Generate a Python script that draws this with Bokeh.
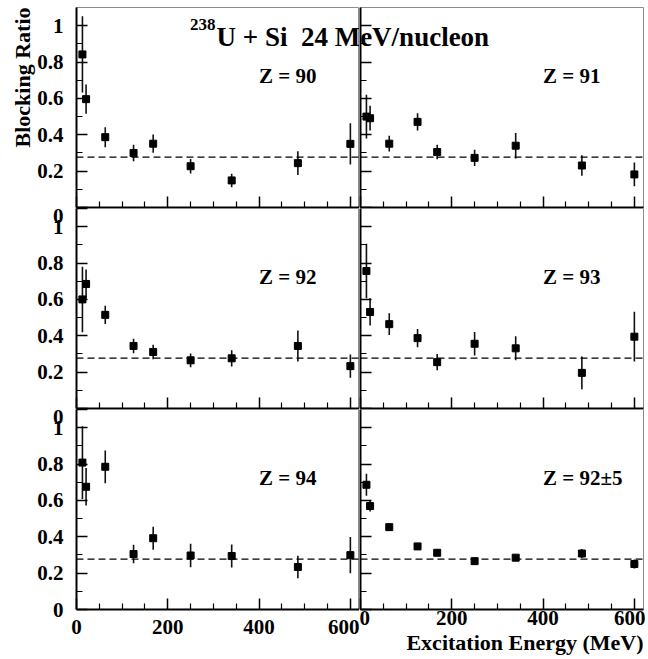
import math
from bokeh.plotting import figure
from bokeh.layouts import gridplot
from bokeh.models import (FixedTicker, Span, Label, Title, ColumnDataSource,
                          CustomJSTickFormatter, CustomLabelingPolicy)
from bokeh.embed import file_html
from bokeh.resources import INLINE

# ---------------- data ----------------
energy = [13, 21, 63, 125, 168, 250, 340, 485, 600]

panel_labels = ["Z = 90", "Z = 91", "Z = 92", "Z = 93", "Z = 94", "Z = 92\u00b15"]

ratio_z90 = [0.842, 0.596, 0.387, 0.300, 0.351, 0.227, 0.149, 0.244, 0.350]
err_z90 = [0.21, 0.08, 0.055, 0.045, 0.05, 0.04, 0.037, 0.065, 0.114]

ratio_z91 = [0.500, 0.491, 0.351, 0.471, 0.305, 0.273, 0.340, 0.231, 0.182]
err_z91 = [0.12, 0.068, 0.043, 0.048, 0.04, 0.045, 0.07, 0.057, 0.065]

ratio_z92 = [0.600, 0.685, 0.515, 0.344, 0.311, 0.265, 0.276, 0.344, 0.233]
err_z92 = [0.18, 0.08, 0.05, 0.04, 0.04, 0.038, 0.045, 0.085, 0.064]

ratio_z93 = [0.756, 0.531, 0.464, 0.387, 0.255, 0.356, 0.331, 0.196, 0.395]
err_z93 = [0.15, 0.075, 0.06, 0.05, 0.045, 0.065, 0.066, 0.09, 0.137]

ratio_z94 = [0.808, 0.675, 0.785, 0.305, 0.392, 0.297, 0.294, 0.234, 0.299]
err_z94 = [0.2, 0.103, 0.09, 0.051, 0.063, 0.064, 0.063, 0.062, 0.1]

ratio_all = [0.686, 0.569, 0.453, 0.347, 0.312, 0.266, 0.285, 0.308, 0.250]
err_all = [0.06, 0.03, 0.01, 0.01, 0.01, 0.01, 0.012, 0.025, 0.025]

ratios = [ratio_z90, ratio_z91, ratio_z92, ratio_z93, ratio_z94, ratio_all]
errors = [err_z90, err_z91, err_z92, err_z93, err_z94, err_all]

mean_ratio = 0.277

x_major = [0, 200, 400, 600]
x_minor = [50, 100, 150, 250, 300, 350, 450, 500, 550]
y_major = [0, 0.2, 0.4, 0.6, 0.8, 1.0]
y_minor = [0.1, 0.3, 0.5, 0.7, 0.9]

title_sup = "238"
title_main = "U + Si\u00a0 24 MeV/nucleon"
x_title = "Excitation Energy (MeV)"
y_title = "Blocking Ratio"

# ---------------- style / layout ----------------
FONT = "Liberation Serif"
X_MAX = 620
Y_MAX = 1.1
FRAME_W = 283
FRAME_H = 200
LEFT_BORDER = 76
TOP_BORDER = 7
GAP = 1
RIGHT_BORDER = 2
BOTTOM_BORDER = 50
SCALE_X = FRAME_W / X_MAX
SCALE_Y = FRAME_H / Y_MAX
RIGHT_SHIFT = X_MAX + GAP / SCALE_X

NO_LABELS = "return [];"
NO_FIRST_LABEL = "const r = []; for (const i of indices) { if (i != 0) r.push(i); } return r;"


def y_fmt():
    return CustomJSTickFormatter(code="""
        if (tick > 1.05) { return '0'; }
        return String(Math.round(tick * 10) / 10);
    """)


def style_ticks(ax):
    ax.axis_line_color = "black"
    ax.axis_line_width = 2
    ax.major_tick_in = 11
    ax.major_tick_out = 0
    ax.minor_tick_in = 6
    ax.minor_tick_out = 0
    ax.major_tick_line_color = "black"
    ax.major_tick_line_width = 1.5
    ax.minor_tick_line_color = "black"
    ax.minor_tick_line_width = 1.2


def make_panel(i):
    row, col = divmod(i, 2)
    left = col == 0
    bottom = row == 2
    top = row == 0
    mb_left = LEFT_BORDER if left else GAP
    mb_right = 0 if left else RIGHT_BORDER
    mb_top = TOP_BORDER if top else 0
    mb_bottom = BOTTOM_BORDER if bottom else 1
    p = figure(width=mb_left + FRAME_W + mb_right,
               height=mb_top + FRAME_H + mb_bottom,
               x_range=(0, X_MAX), y_range=(0, Y_MAX),
               output_backend="svg", toolbar_location=None,
               min_border_left=mb_left, min_border_right=mb_right,
               min_border_top=mb_top, min_border_bottom=mb_bottom)
    p.xgrid.grid_line_color = None
    p.ygrid.grid_line_color = None
    p.background_fill_color = "white"
    p.border_fill_color = "white"
    p.outline_line_color = "#8c8c8c"
    p.outline_line_width = 1

    # x axis
    xa = p.xaxis[0]
    xa.ticker = FixedTicker(ticks=x_major, minor_ticks=x_minor)
    style_ticks(xa)
    if bottom:
        xa.major_label_text_font = FONT
        xa.major_label_text_font_style = "bold"
        xa.major_label_text_font_size = "21px"
        xa.major_label_text_color = "black"
        xa.major_label_standoff = 10 if left else 1
    else:
        xa.major_label_text_font_size = "0px"
        xa.major_label_standoff = 0
        xa.major_label_policy = CustomLabelingPolicy(code=NO_LABELS)

    # y axis
    ya = p.yaxis[0]
    ticks = list(y_major)
    if left and row > 0:
        ticks = ticks + [Y_MAX]  # the "0" of the panel above, on the shared edge
    ya.ticker = FixedTicker(ticks=ticks, minor_ticks=y_minor)
    style_ticks(ya)
    if left:
        ya.formatter = y_fmt()
        ya.major_label_text_font = FONT
        ya.major_label_text_font_style = "bold"
        ya.major_label_text_font_size = "21px"
        ya.major_label_text_color = "black"
        ya.major_label_standoff = 13
        if not bottom:
            ya.major_label_policy = CustomLabelingPolicy(code=NO_FIRST_LABEL)
    else:
        ya.major_label_text_font_size = "0px"
        ya.major_label_standoff = 0
        ya.major_label_policy = CustomLabelingPolicy(code=NO_LABELS)

    # reference line
    p.add_layout(Span(location=mean_ratio, dimension="width", line_color="black",
                      line_dash="7 4", line_width=1.3))

    yv = ratios[i]
    ev = errors[i]
    src = ColumnDataSource(dict(
        x=energy, y=yv,
        lo=[a - b for a, b in zip(yv, ev)],
        hi=[a + b for a, b in zip(yv, ev)],
    ))
    p.segment(x0="x", y0="lo", x1="x", y1="hi", source=src,
              line_color="#111111", line_width=1.6)
    p.scatter(x="x", y="y", source=src, marker="square", size=7,
              fill_color="black", line_color="black")

    p.add_layout(Label(x=400, y=Y_MAX - 68 / SCALE_Y, text=panel_labels[i],
                       text_font=FONT, text_font_style="bold",
                       text_font_size="21px", text_color="black",
                       text_align="left", text_baseline="middle"))
    return p


panels = [make_panel(i) for i in range(6)]

# title spanning the two top panels (drawn in each, clipped at the shared edge)
title_x = (216 - LEFT_BORDER) / SCALE_X
title_y = Y_MAX - 29 / SCALE_Y
sup_y = Y_MAX - 17 / SCALE_Y
for k, p in enumerate(panels[:2]):
    shift = 0 if k == 0 else RIGHT_SHIFT
    p.add_layout(Label(x=title_x - shift, y=title_y, text=title_main,
                       text_font=FONT, text_font_style="bold",
                       text_font_size="27px", text_color="black",
                       text_align="left", text_baseline="middle"))
panels[0].add_layout(Label(x=title_x - 1 / SCALE_X, y=sup_y, text=title_sup,
                           text_font=FONT, text_font_style="bold",
                           text_font_size="17px", text_color="black",
                           text_align="right", text_baseline="middle"))

# axis titles: at the top end of the y axis, at the right end of the x axis
panels[0].add_layout(Title(text=y_title, align="right", standoff=0,
                           text_font=FONT, text_font_style="bold",
                           text_font_size="22px", text_color="black"), "left")
panels[5].add_layout(Title(text=x_title, align="right", standoff=0,
                           text_font=FONT, text_font_style="bold",
                           text_font_size="22px", text_color="black"), "below")

grid = gridplot([panels[0:2], panels[2:4], panels[4:6]], toolbar_location=None)

open("out.html", "w").write(file_html(grid, INLINE))
